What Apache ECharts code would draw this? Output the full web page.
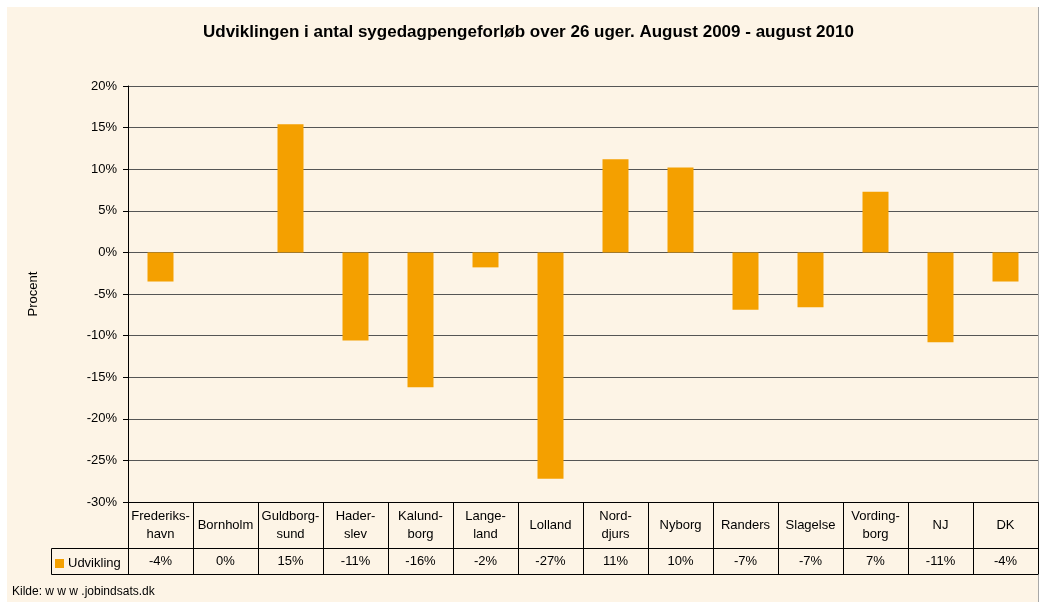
<!DOCTYPE html>
<html>
<head>
<meta charset="utf-8">
<script src="https://cdn.jsdelivr.net/npm/echarts@6/dist/echarts.min.js"></script>
<style>
  html, body { margin: 0; padding: 0; background: #fff; }
  #bg {
    position: absolute; left: 7px; top: 7px;
    width: 1031px; height: 595px;
    background: #fdf4e6;
    border-right: 1px solid #a8a8a8;
  }
  #chart { position: absolute; left: 0; top: 0; width: 1041px; height: 602px; }
</style>
</head>
<body>
<div id="bg"></div>
<div id="chart"></div>
<script>
// kommuner / områder (med orddeling som i tabellen)
const categories = [
  'Frederiks-\nhavn', 'Bornholm', 'Guldborg-\nsund', 'Hader-\nslev', 'Kalund-\nborg',
  'Lange-\nland', 'Lolland', 'Nord-\ndjurs', 'Nyborg', 'Randers', 'Slagelse',
  'Vording-\nborg', 'NJ', 'DK'
];
// udvikling i procent
const udvikling = [-3.5, 0, 15.4, -10.6, -16.2, -1.8, -27.2, 11.2, 10.2, -6.9, -6.6, 7.3, -10.8, -3.5];
const yTicks = { min: -30, max: 20, step: 5 };

const font = 'Arial, "Liberation Sans", sans-serif';
const orange = '#f4a000';

// Excel runder væk fra nul
function pct(v) {
  const r = Math.round(Math.abs(v));
  return (v < 0 && r !== 0 ? '-' : '') + r + '%';
}

const chart = echarts.init(document.getElementById('chart'));

const tableAxis = {
  type: 'category',
  data: categories,
  position: 'bottom',
  axisLine: { show: true, onZero: false, lineStyle: { color: '#000', width: 1 } },
  axisTick: { show: false },
  axisLabel: { show: false }
};

const option = {
  backgroundColor: 'transparent',
  textStyle: { fontFamily: font },
  title: {
    text: 'Udviklingen i antal sygedagpengeforløb over 26 uger. August 2009 - august 2010',
    left: 203,
    top: 24,
    padding: 0,
    textStyle: { fontFamily: font, fontSize: 17, fontWeight: 'bold', color: '#000' }
  },
  legend: {
    data: ['Udvikling'],
    left: 55,
    top: 557,
    padding: 0,
    icon: 'rect',
    itemWidth: 9,
    itemHeight: 9,
    itemGap: 4,
    textStyle: { fontFamily: font, fontSize: 13, color: '#000', padding: [0, 0, 0, -1] }
  },
  grid: {
    left: 128,
    right: 3,
    top: 86,
    bottom: 100
  },
  xAxis: [
    Object.assign({}, tableAxis, {
      axisTick: { show: true, alignWithLabel: false, interval: 0, length: 72, lineStyle: { color: '#000' } },
      axisLabel: {
        show: true,
        interval: 0,
        fontFamily: font,
        fontSize: 13,
        lineHeight: 18,
        color: '#000',
        margin: 23,
        verticalAlign: 'middle'
      }
    }),
    Object.assign({}, tableAxis, {
      offset: 46,
      axisLabel: {
        show: true,
        interval: 0,
        fontFamily: font,
        fontSize: 13,
        color: '#000',
        margin: 13,
        verticalAlign: 'middle',
        formatter: (val, idx) => pct(udvikling[idx])
      }
    }),
    Object.assign({}, tableAxis, { offset: 72 })
  ],
  yAxis: {
    type: 'value',
    min: yTicks.min,
    max: yTicks.max,
    interval: yTicks.step,
    name: 'Procent',
    nameLocation: 'middle',
    nameRotate: 90,
    nameGap: 88,
    nameTextStyle: { fontFamily: font, fontSize: 13, color: '#000' },
    axisLine: { show: true, lineStyle: { color: '#000', width: 1 } },
    axisTick: { show: true, length: 5, lineStyle: { color: '#000' } },
    axisLabel: {
      fontFamily: font,
      fontSize: 13,
      color: '#000',
      margin: 11,
      formatter: '{value}%'
    },
    splitLine: { show: true, lineStyle: { color: '#555', width: 1 } }
  },
  series: [
    {
      name: 'Udvikling',
      type: 'bar',
      xAxisIndex: 0,
      data: udvikling,
      barWidth: 26,
      itemStyle: { color: orange },
      silent: true
    }
  ],
  graphic: [
    {
      // legendefeltet i tabellen
      type: 'polyline',
      shape: { points: [[128, 548.5], [51.5, 548.5], [51.5, 574.5], [128, 574.5]] },
      style: { stroke: '#000', lineWidth: 1, fill: null }
    },
    {
      type: 'text',
      left: 12,
      top: 586,
      style: { text: 'Kilde: w w w .jobindsats.dk', fontFamily: font, fontSize: 12, fill: '#000' }
    }
  ],
  animation: false
};

chart.setOption(option);
</script>
</body>
</html>
